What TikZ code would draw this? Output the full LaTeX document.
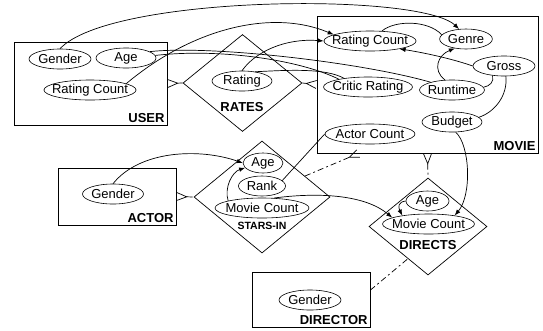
\documentclass[tikz,border=0pt]{standalone}
\usepackage{fontspec}
\setmainfont{Liberation Sans}
\usetikzlibrary{shapes.geometric,arrows.meta}
\newcommand{\sqz}[1]{\makebox[.7\width]{#1}}
\begin{document}
\begin{tikzpicture}[x=1pt, y=-1pt, line width=.7pt,
  attr/.style={ellipse,draw,line width=.6pt,inner xsep=6pt,inner ysep=1pt,minimum height=20pt,font=\fontsize{13}{15}\selectfont},
  entity/.style={rectangle,draw,inner sep=0pt},
  rel/.style={diamond,draw,inner sep=0pt},
  lbl/.style={font=\fontsize{13}{15}\selectfont\bfseries,inner sep=2.5pt},
  link/.style={dash pattern=on 6pt off 3pt on 2pt off 3pt},
  many/.style={link,arrows={{Straight Barb[reversed,length=10pt,width=8pt]}-}},
  deriv/.style={-{Latex[length=6pt,width=4.5pt]}}]
\useasboundingbox (0,0) rectangle (543,330);
\begin{scope}
\node[entity,minimum width=153pt,minimum height=83pt] (user) at (90.5,83.5) {};
\node[entity,minimum width=221pt,minimum height=137pt] (movie) at (427.5,84.5) {};
\node[entity,minimum width=118pt,minimum height=57pt] (actor) at (117,196.5) {};
\node[entity,minimum width=118pt,minimum height=55pt] (director) at (311,299.5) {};
\node[rel,minimum width=119pt,minimum height=97pt] (rates) at (242.5,83) {};
\node[rel,minimum width=136pt,minimum height=112pt] (stars) at (262,197) {};
\node[rel,minimum width=118pt,minimum height=97pt] (directs) at (428,226.5) {};
\node[lbl,anchor=south east] (userlbl) at (user.south east) {USER};
\node[lbl,anchor=south east] (movielbl) at (movie.south east) {MOVIE};
\node[lbl,anchor=south east] (actorlbl) at (actor.south east) {ACTOR};
\node[lbl,anchor=south east] (directorlbl) at (director.south east) {DIRECTOR};
\node[lbl] (rateslbl) at (242,107) {RATES};
\node[lbl,font=\fontsize{10.5}{12}\selectfont\bfseries] (starslbl) at (262,226) {STARS-IN};
\node[lbl] (directslbl) at (428,245) {DIRECTS};
\end{scope}
\begin{scope}
\node[attr,minimum width=62pt] (ugender) at (60,59) {\sqz{Gender}};
\node[attr,minimum width=60pt] (uage) at (126,58) {\sqz{Age}};
\node[attr,minimum width=88pt] (urc) at (90,90) {\sqz{Rating Count}};
\node[attr,minimum width=60pt] (rrating) at (242,81) {\sqz{Rating}};
\node[attr,minimum width=88pt] (mrc) at (370,41) {\sqz{Rating Count}};
\node[attr,minimum width=48pt] (mgenre) at (466,39) {\sqz{Genre}};
\node[attr,minimum width=62pt] (mgross) at (504,66) {\sqz{Gross}};
\node[attr,minimum width=89pt] (mcritic) at (368,87) {\sqz{Critic Rating}};
\node[attr] (mruntime) at (452,90) {\sqz{Runtime}};
\node[attr,minimum width=60pt] (mbudget) at (452,122) {\sqz{Budget}};
\node[attr,minimum width=90pt] (mactor) at (370,134) {\sqz{Actor Count}};
\node[attr,minimum width=61pt] (agender) at (113,194) {\sqz{Gender}};
\node[attr] (sage) at (263,163) {\sqz{Age}};
\node[attr] (srank) at (262,186) {\sqz{Rank}};
\node[attr,minimum width=94pt] (smc) at (262,208) {\sqz{Movie Count}};
\node[attr,minimum width=43pt] (dage) at (427.5,201) {\sqz{Age}};
\node[attr,minimum width=92pt] (dmc) at (428.5,224) {\sqz{Movie Count}};
\node[attr,minimum width=62pt] (dgender) at (310,300) {\sqz{Gender}};
\end{scope}
% relationships
\draw[many] (user.east) -- (rates.west);
\draw[many] (movie.west) -- (rates.east);
\draw[many] (actor.east) -- (stars.west);
\draw[many] (movie.225) -- (stars.26);
\draw[many] (movie.south) -- (directs.north);
\draw[link] (director.9) -- (directs.238);
% attribute links
\draw[deriv] (ugender.north) .. controls (110,-5) and (420,-8) .. (mgenre.125);
\draw[deriv] (urc.10) .. controls (190,30) and (270,8) .. (mrc.170);
\draw (uage.15) .. controls (210,45) and (360,62) .. (mruntime.160);
\draw (uage.5) .. controls (220,48) and (300,60) .. (mcritic.165);
\draw[deriv] (rrating.north) .. controls (255,52) and (285,38) .. (mrc.west);
\draw (rrating.35) .. controls (290,70) and (325,68) .. (mcritic.160);
\draw (mrc.40) .. controls (395,20) and (428,20) .. (mgenre.170);
\draw[deriv] (mgross.west) .. controls (450,58) and (420,52) .. (mrc.-15);
\draw[deriv] (mruntime.125) .. controls (432,70) and (438,55) .. (mgenre.220);
\draw (mruntime.5) .. controls (490,86) and (494,82) .. (mgross.220);
\draw (mgross.-80) .. controls (508,95) and (495,112) .. (mbudget.10);
\draw[deriv] (mbudget.-70) .. controls (470,145) and (472,195) .. (dmc.18);
\draw (mactor.west) -- (srank.15);
\draw[deriv] (agender.north) .. controls (140,150) and (200,148) .. (sage.west);
\draw[deriv] (smc.168) .. controls (224,188) and (232,172) .. (sage.195);
\draw[deriv] (smc.40) .. controls (320,192) and (365,195) .. (dmc.170);
\draw[deriv] (dage.west) .. controls (398,202) and (398,207) .. (dmc.162);
\end{tikzpicture}
\end{document}
